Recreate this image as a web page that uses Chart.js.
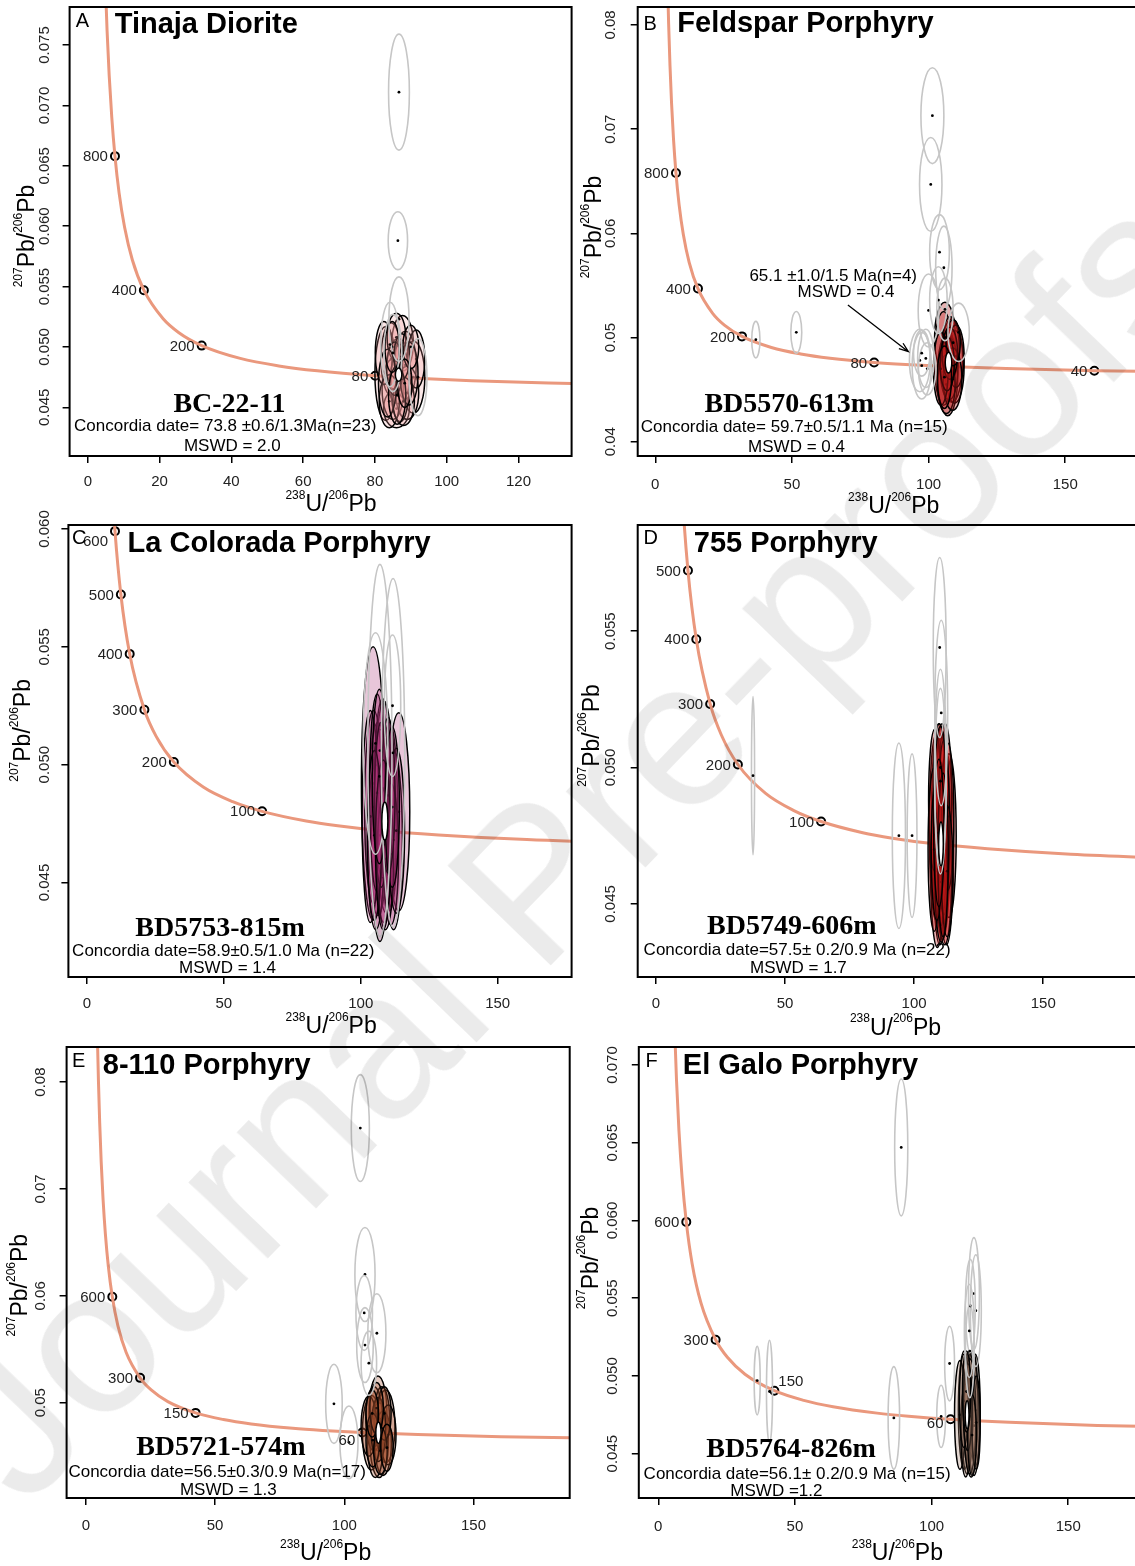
<!DOCTYPE html>
<html>
<head>
<meta charset="utf-8">
<title>U-Pb concordia diagrams</title>
<script src="https://cdn.jsdelivr.net/npm/chart.js"></script>
<style>
  html, body { margin: 0; padding: 0; background: #fff; overflow: hidden; }
  #page { position: relative; width: 1135px; height: 1566px; overflow: hidden; background: #fff; }
  canvas.panel { position: absolute; }
  #wm {
    position: absolute; left: 25px; top: 1510px; white-space: nowrap;
    font: 208px/1 "Liberation Sans", Arial, sans-serif; color: #ebebeb;
    transform-origin: 0 0; transform: rotate(-46deg) translateY(-0.8465em);
    mix-blend-mode: multiply; pointer-events: none;
  }
</style>
</head>
<body>
<div id="page">
  <canvas id="cA" class="panel"></canvas>
  <canvas id="cB" class="panel"></canvas>
  <canvas id="cC" class="panel"></canvas>
  <canvas id="cD" class="panel"></canvas>
  <canvas id="cE" class="panel"></canvas>
  <canvas id="cF" class="panel"></canvas>
  <div id="wm">Journal Pre-proofs</div>
</div>
<script>
// concordia curve (age in Ma, 238U/206Pb, 207Pb/206Pb)
const concAges = [1400, 1300, 1200, 1100, 1000, 900, 800, 700, 600, 500, 400, 300, 250, 200, 150, 120, 100, 80, 70, 60, 50, 40, 30];
const concX = [4.123, 4.476, 4.888, 5.374, 5.959, 6.674, 7.568, 8.718, 10.252, 12.399, 15.620, 20.991, 25.290, 31.735, 42.477, 53.223, 63.967, 80.083, 91.592, 106.94, 128.43, 160.66, 214.38];
const concY = [0.08881, 0.08432, 0.08013, 0.07618, 0.07249, 0.06904, 0.06580, 0.06276, 0.05991, 0.05722, 0.05470, 0.05233, 0.05120, 0.05011, 0.04905, 0.04843, 0.04802, 0.04761, 0.04741, 0.04721, 0.04702, 0.04682, 0.04662];

// ages marked on each curve
const agesA = [800, 400, 200, 80];
const agesB = [800, 400, 200, 80, 40];
const agesC = [600, 500, 400, 300, 200, 100];
const agesD = [500, 400, 300, 200, 100];
const agesE = [600, 300, 150, 60];
const agesF = [600, 300, 150, 60];

// ticks
const xTicksA = [0, 20, 40, 60, 80, 100, 120];
const xTicks50 = [0, 50, 100, 150];
const yTicksA = [0.045, 0.050, 0.055, 0.060, 0.065, 0.070, 0.075];
const yLabelsA = ['0.045', '0.050', '0.055', '0.060', '0.065', '0.070', '0.075'];
const yTicksB = [0.04, 0.05, 0.06, 0.07, 0.08];
const yLabelsB = ['0.04', '0.05', '0.06', '0.07', '0.08'];
const yTicksC = [0.045, 0.050, 0.055, 0.060];
const yLabelsC = ['0.045', '0.050', '0.055', '0.060'];
const yTicksD = [0.045, 0.050, 0.055];
const yLabelsD = ['0.045', '0.050', '0.055'];
const yTicksE = [0.05, 0.06, 0.07, 0.08];
const yLabelsE = ['0.05', '0.06', '0.07', '0.08'];
const yTicksF = [0.045, 0.050, 0.055, 0.060, 0.065, 0.070];
const yLabelsF = ['0.045', '0.050', '0.055', '0.060', '0.065', '0.070'];

// analyses: [238U/206Pb, 207Pb/206Pb, half-width x, half-width y]
const accA = [[83.0,0.0478,3.0,0.0039],[87.7,0.0503,3.0,0.0023],[90.7,0.0475,3.2,0.0030],[86.0,0.0449,3.6,0.0016],
  [86.5,0.0480,3.4,0.0027],[84.5,0.0490,2.8,0.0030],[88.5,0.0485,3.0,0.0028],[85.0,0.0465,3.0,0.0025],
  [89.0,0.0462,3.2,0.0022],[87.0,0.0470,2.6,0.0032],[82.5,0.0495,2.4,0.0026],[91.5,0.0490,2.4,0.0024],
  [86.0,0.0508,2.6,0.0020],[84.0,0.0455,2.8,0.0022],[88.0,0.0455,3.0,0.0020],[85.5,0.0482,2.2,0.0022],
  [89.5,0.0478,2.5,0.0026],[83.5,0.0470,2.5,0.0028],[87.5,0.0492,2.2,0.0019],[86.2,0.0460,2.4,0.0024],
  [90.0,0.0500,2.2,0.0018],[84.8,0.0500,2.0,0.0021],[88.3,0.0470,2.0,0.0020]];
const rejA = [[86.7,0.0711,2.9,0.0048],[86.4,0.0588,2.7,0.0024],[86.7,0.0523,2.8,0.0035],[84.2,0.0502,2.6,0.0035],
  [85.0,0.0495,2.5,0.0032],[92.0,0.0475,2.5,0.0032]];
const concA = [86.6, 0.0477, 0.9, 0.00055];

const accB = [[106.0,0.0500,3.8,0.0034],[108.5,0.0478,4.0,0.0040],[107.0,0.0465,3.7,0.0040],[109.5,0.0472,3.5,0.0035],
  [105.5,0.0480,3.4,0.0045],[108.0,0.0490,3.2,0.0030],[107.5,0.0470,3.2,0.0030],[110.0,0.0482,3.0,0.0030],
  [106.5,0.0455,3.2,0.0028],[108.8,0.0460,3.4,0.0030],[104.5,0.0470,2.7,0.0035],[107.8,0.0485,2.8,0.0025],
  [106.8,0.0475,2.6,0.0026],[109.0,0.0495,2.6,0.0022],[105.8,0.0462,2.6,0.0030]];
const rejB = [[101.4,0.0713,4.2,0.0046],[100.8,0.0647,4.1,0.0045],[104.0,0.0582,3.6,0.0036],[105.6,0.0567,3.0,0.0040],
  [100.0,0.0526,3.8,0.0035],[103.6,0.0536,3.2,0.0032],[106.0,0.0527,3.0,0.0030],[111.0,0.0505,3.9,0.0028],
  [96.8,0.0478,3.8,0.0030],[97.5,0.0473,3.5,0.0032],[99.0,0.0480,3.0,0.0028],[99.5,0.0470,3.2,0.0025],
  [97.5,0.0485,3.0,0.0022],[36.8,0.0498,1.5,0.00175],[51.6,0.0505,2.0,0.0020]];
const concB = [107.3, 0.0476, 1.2, 0.0010];

const accC = [[104.5,0.0492,4.25,0.0058],[113.9,0.0480,4.0,0.0042],[108.5,0.0480,3.5,0.0047],[109.4,0.0473,3.6,0.0036],
  [106.3,0.0477,3.6,0.0041],[104.7,0.0482,3.3,0.0041],[107.0,0.0470,3.2,0.0045],[110.5,0.0478,3.0,0.0040],
  [105.5,0.0465,3.0,0.0035],[112.0,0.0468,3.2,0.0038],[103.5,0.0478,3.0,0.0045],[108.0,0.0490,3.0,0.0038],
  [111.0,0.0462,2.8,0.0030],[106.0,0.0488,2.8,0.0042],[109.0,0.0460,3.0,0.0030],[107.5,0.0483,2.5,0.0035],
  [113.0,0.0472,3.0,0.0035],[105.0,0.0470,2.6,0.0036],[110.0,0.0487,2.5,0.0033],[108.2,0.0466,2.8,0.0036],
  [106.8,0.0495,2.6,0.0037],[111.5,0.0482,2.6,0.0034]];
const rejC = [[107.0,0.0506,4.4,0.0079],[111.8,0.0505,4.25,0.0074],[105.4,0.0509,4.5,0.0047],[111.6,0.0525,3.0,0.0030]];
const concC = [108.8, 0.0476, 1.1, 0.0008];

const accD = [[109.5,0.0480,2.8,0.0036],[111.0,0.0475,3.0,0.0038],[112.5,0.0470,2.8,0.0035],[110.0,0.0468,2.7,0.0033],
  [108.5,0.0478,2.6,0.0034],[113.5,0.0475,2.8,0.0030],[110.8,0.0485,2.6,0.0031],[109.0,0.0462,2.6,0.0028],
  [111.8,0.0460,2.7,0.0025],[108.0,0.0488,2.4,0.0026],[112.0,0.0490,2.5,0.0026],[110.3,0.0472,2.2,0.0030],
  [109.8,0.0492,2.4,0.0024],[113.0,0.0482,2.4,0.0027],[107.8,0.0470,2.4,0.0030],[111.5,0.0478,2.2,0.0032],
  [110.5,0.0458,2.4,0.0022],[112.8,0.0462,2.2,0.0024],[108.8,0.0470,2.2,0.0026],[110.2,0.0495,2.2,0.0020],
  [111.2,0.0468,2.0,0.0030],[109.6,0.0476,2.0,0.0027]];
const rejD = [[109.9,0.0544,2.5,0.0033],[110.5,0.0520,2.5,0.0034],[110.2,0.0500,2.3,0.0036],[110.2,0.0495,2.2,0.0034],
  [94.1,0.0475,2.55,0.0034],[99.2,0.0475,1.9,0.0030],[37.6,0.0497,0.6,0.0029]];
const concD = [110.4, 0.0472, 0.9, 0.0008];

const accE = [[113.0,0.0490,3.5,0.0035],[110.5,0.0472,3.5,0.0035],[116.0,0.0478,3.6,0.0034],[113.5,0.0465,3.6,0.0035],
  [111.5,0.0485,3.2,0.0030],[115.0,0.0462,3.2,0.0030],[112.0,0.0460,3.0,0.0030],[114.5,0.0485,3.0,0.0030],
  [109.5,0.0478,3.0,0.0028],[117.0,0.0470,3.0,0.0028],[113.2,0.0475,2.8,0.0030],[111.0,0.0465,2.6,0.0025],
  [115.5,0.0490,2.6,0.0025],[112.5,0.0495,2.6,0.0024],[114.0,0.0455,2.6,0.0022],[110.8,0.0490,2.4,0.0022],
  [116.5,0.0458,2.4,0.0022]];
const rejE = [[106.2,0.0757,3.5,0.0050],[108.0,0.0620,3.9,0.0044],[107.7,0.0584,3.2,0.0035],[112.6,0.0565,3.5,0.0037],
  [108.0,0.0554,3.2,0.0035],[109.5,0.0537,3.0,0.0030],[96.0,0.0499,3.2,0.0037],[101.8,0.0463,3.5,0.0034]];
const concE = [113.2, 0.0472, 1.0, 0.0010];

const accF = [[112.0,0.0478,2.2,0.0038],[114.5,0.0475,2.4,0.0040],[116.0,0.0478,1.8,0.0036],[113.0,0.0470,2.0,0.0033],
  [110.4,0.0475,2.0,0.0035],[115.0,0.0482,2.0,0.0034],[113.8,0.0486,1.8,0.0030],[112.5,0.0465,1.8,0.0030],
  [115.5,0.0468,2.0,0.0032],[114.0,0.0474,2.2,0.0037],[111.8,0.0484,1.6,0.0030],[116.3,0.0470,1.5,0.0030],
  [113.2,0.0480,1.6,0.0028],[114.8,0.0462,1.6,0.0026],[112.8,0.0490,1.5,0.0026]];
const rejF = [[88.9,0.0647,2.4,0.0044],[86.2,0.0473,2.1,0.0033],[106.6,0.0508,1.8,0.0024],[103.5,0.0474,1.6,0.0020],
  [115.5,0.0553,2.0,0.0036],[116.2,0.0542,2.0,0.0036],[114.2,0.0545,1.8,0.0030],[113.8,0.0529,1.8,0.0030],
  [114.0,0.0516,1.6,0.0030],[36.2,0.0497,1.1,0.0022],[40.7,0.0490,1.1,0.0033]];
const concF = [113.0, 0.0475, 0.7, 0.0009];

const SANS = '"Liberation Sans", Arial, sans-serif';
const SERIF = '"Liberation Serif", "Times New Roman", serif';
const CURVE = '#ea987d';
const GREY = '#c6c6c6';

const panels = [
  { canvas: 'cA', frame: [0, 0, 580, 520], box: [69.6, 7, 571.6, 456], x: [-5.07, 134.8], y: [0.04097, 0.07815],
    xTicks: xTicksA, yTicks: yTicksA, yLabels: yLabelsA, ages: agesA, acc: accA, rej: rejA, conc: concA,
    fill: 'rgba(235,150,150,0.22)',
    letter: 'A', title: 'Tinaja Diorite', sample: 'BC-22-11', date: 'Concordia date= 73.8 ±0.6/1.3Ma(n=23)', mswd: 'MSWD = 2.0',
    pos: { letter: [75.8, 26.7], title: [114.7, 32.7], sample: [229.4, 411.7], date: [74, 431], mswd: [232.3, 450.7],
      xTickY: 481.7, xTitle: [331, 505], yTickX: 44.4, yTitle: [27.7, 236] }, ageOff: {} },
  { canvas: 'cB', frame: [575, 0, 570, 520], box: [637.7, 7, 1140, 456], x: [-6.43, 177.0], y: [0.03863, 0.08173],
    xTicks: xTicks50, yTicks: yTicksB, yLabels: yLabelsB, ages: agesB, acc: accB, rej: rejB, conc: concB,
    fill: 'rgba(185,25,25,0.34)',
    letter: 'B', title: 'Feldspar Porphyry', sample: 'BD5570-613m', date: 'Concordia date= 59.7±0.5/1.1 Ma (n=15)', mswd: 'MSWD = 0.4',
    pos: { letter: [643.6, 30], title: [677.3, 31.7], sample: [789.2, 411.7], date: [640.7, 431.7], mswd: [796.5, 451.7],
      xTickY: 485, xTitle: [893.7, 506.7], yTickX: 611.3, yTitle: [594.8, 227] }, ageOff: {},
    note: { lines: ['65.1 ±1.0/1.5 Ma(n=4)', 'MSWD = 0.4'], at: [[833.2, 276.7], [846, 292.7]], arrow: [847.9, 305, 908.4, 351.7] } },
  { canvas: 'cC', frame: [0, 500, 580, 540], box: [68.4, 525, 571.6, 977], x: [-6.76, 177.0], y: [0.04099, 0.06017],
    xTicks: xTicks50, yTicks: yTicksC, yLabels: yLabelsC, ages: agesC, acc: accC, rej: rejC, conc: concC,
    fill: 'rgba(170,45,115,0.27)',
    letter: 'C', title: 'La Colorada Porphyry', sample: 'BD5753-815m', date: 'Concordia date=58.9±0.5/1.0 Ma (n=22)', mswd: 'MSWD = 1.4',
    pos: { letter: [72.1, 543.6], title: [127.6, 552], sample: [220.1, 935.7], date: [72.1, 955.9], mswd: [227.5, 973.4],
      xTickY: 1003.7, xTitle: [331.1, 1026.6], yTickX: 44.4, yTitle: [24, 730.4] }, ageOff: { 600: [-7, 11, 'right'] } },
  { canvas: 'cD', frame: [575, 500, 570, 540], box: [637.7, 525, 1140, 977], x: [-7.07, 187.1], y: [0.04232, 0.05889],
    xTicks: xTicks50, yTicks: yTicksD, yLabels: yLabelsD, ages: agesD, acc: accD, rej: rejD, conc: concD,
    fill: 'rgba(205,25,25,0.32)',
    letter: 'D', title: '755 Porphyry', sample: 'BD5749-606m', date: 'Concordia date=57.5± 0.2/0.9 Ma (n=22)', mswd: 'MSWD = 1.7',
    pos: { letter: [643.6, 543.6], title: [693.8, 552], sample: [791.8, 934], date: [643.6, 955.3], mswd: [798.4, 973.4],
      xTickY: 1003.7, xTitle: [895.5, 1028.3], yTickX: 611.3, yTitle: [592.3, 735.5] }, ageOff: {} },
  { canvas: 'cE', frame: [0, 1035, 580, 531], box: [66.6, 1047, 569.7, 1498], x: [-7.43, 187.2], y: [0.04109, 0.08328],
    xTicks: xTicks50, yTicks: yTicksE, yLabels: yLabelsE, ages: agesE, acc: accE, rej: rejE, conc: concE,
    fill: 'rgba(165,80,45,0.30)',
    letter: 'E', title: '8-110 Porphyry', sample: 'BD5721-574m', date: 'Concordia date=56.5±0.3/0.9 Ma(n=17)', mswd: 'MSWD = 1.3',
    pos: { letter: [72.1, 1067.3], title: [102.8, 1074.1], sample: [220.9, 1455.4], date: [68.4, 1477], mswd: [228.3, 1494.5],
      xTickY: 1525.8, xTitle: [325.6, 1554], yTickX: 40.7, yTitle: [21.1, 1285.2] }, ageOff: { 60: [-7, 8, 'right'] } },
  { canvas: 'cF', frame: [575, 1035, 570, 531], box: [638.8, 1047, 1140, 1498], x: [-7.12, 175.9], y: [0.04215, 0.07116],
    xTicks: xTicks50, yTicks: yTicksF, yLabels: yLabelsF, ages: agesF, acc: accF, rej: rejF, conc: concF,
    fill: 'rgba(165,125,105,0.30)',
    letter: 'F', title: 'El Galo Porphyry', sample: 'BD5764-826m', date: 'Concordia date=56.1± 0.2/0.9 Ma (n=15)', mswd: 'MSWD =1.2',
    pos: { letter: [645.4, 1067.3], title: [682.8, 1074], sample: [791, 1457], date: [643.6, 1479], mswd: [776.4, 1496],
      xTickY: 1526.8, xTitle: [897.4, 1554], yTickX: 613.2, yTitle: [591.2, 1258] },
    ageOff: { 150: [4, -9, 'left'], 60: [-7, 5, 'right'] } }
];

// draw an error ellipse from data values
function ellipse(ctx, xs, ys, e, fill, stroke, lw, dot) {
  const cx = xs.getPixelForValue(e[0]), cy = ys.getPixelForValue(e[1]);
  const rx = Math.abs(xs.getPixelForValue(e[0] + e[2]) - cx);
  const ry = Math.abs(ys.getPixelForValue(e[1] + e[3]) - cy);
  ctx.beginPath();
  ctx.ellipse(cx, cy, rx, ry, 0, 0, Math.PI * 2);
  if (fill) { ctx.fillStyle = fill; ctx.fill(); }
  ctx.strokeStyle = stroke; ctx.lineWidth = lw; ctx.stroke();
  if (dot) {
    ctx.beginPath(); ctx.arc(cx, cy, 1.4, 0, Math.PI * 2);
    ctx.fillStyle = '#000'; ctx.fill();
  }
}

// text with superscripts, e.g. 207Pb/206Pb
function rich(ctx, parts, x, y, size, rotate) {
  const big = size + 'px ' + SANS, small = Math.round(size * 0.52) + 'px ' + SANS;
  let w = 0;
  parts.forEach(([t, sup]) => { ctx.font = sup ? small : big; w += ctx.measureText(t).width; });
  ctx.save();
  ctx.translate(x, y);
  if (rotate) ctx.rotate(-Math.PI / 2);
  ctx.textAlign = 'left'; ctx.textBaseline = 'middle'; ctx.fillStyle = '#000';
  let cx = -w / 2;
  parts.forEach(([t, sup]) => {
    ctx.font = sup ? small : big;
    ctx.fillText(t, cx, sup ? -size * 0.4 : 0);
    cx += ctx.measureText(t).width;
  });
  ctx.restore();
}

function text(ctx, s, x, y, font, align, base) {
  ctx.font = font; ctx.textAlign = align || 'left'; ctx.textBaseline = base || 'alphabetic';
  ctx.fillStyle = '#000'; ctx.fillText(s, x, y);
}

function decor(p) {
  const [fl, ft] = p.frame;
  return {
    id: 'decor' + p.letter,
    afterDatasetsDraw(chart) {
      const ctx = chart.ctx, xs = chart.scales.x, ys = chart.scales.y, a = chart.chartArea;
      ctx.save();
      ctx.beginPath(); ctx.rect(a.left, a.top, a.right - a.left, a.bottom - a.top); ctx.clip();
      p.acc.forEach(e => ellipse(ctx, xs, ys, e, p.fill, '#000', 1.5, true));
      p.rej.forEach(e => ellipse(ctx, xs, ys, e, null, GREY, 1.6, true));
      ellipse(ctx, xs, ys, p.conc, '#fff', '#000', 1.5, false);
      ctx.restore();
    },
    afterDraw(chart) {
      const ctx = chart.ctx, xs = chart.scales.x, ys = chart.scales.y, a = chart.chartArea;
      const P = p.pos;
      // plot box
      ctx.save();
      ctx.strokeStyle = '#000'; ctx.lineWidth = 2;
      ctx.strokeRect(a.left, a.top, a.right - a.left, a.bottom - a.top);
      // tick labels
      ctx.fillStyle = '#222';
      ctx.font = '15px ' + SANS; ctx.textAlign = 'center'; ctx.textBaseline = 'middle';
      p.xTicks.forEach(v => ctx.fillText(String(v), xs.getPixelForValue(v), P.xTickY - ft));
      p.yTicks.forEach((v, i) => {
        ctx.save();
        ctx.translate(P.yTickX - fl, ys.getPixelForValue(v));
        ctx.rotate(-Math.PI / 2);
        ctx.fillText(p.yLabels[i], 0, 0);
        ctx.restore();
      });
      // axis titles
      rich(ctx, [['238', true], ['U/', false], ['206', true], ['Pb', false]], P.xTitle[0] - fl, P.xTitle[1] - ft, 23, false);
      rich(ctx, [['207', true], ['Pb/', false], ['206', true], ['Pb', false]], P.yTitle[0] - fl, P.yTitle[1] - ft, 23, true);
      // age labels on the concordia
      ctx.font = '15px ' + SANS; ctx.fillStyle = '#222'; ctx.textBaseline = 'middle';
      p.ages.forEach(age => {
        const i = concAges.indexOf(age);
        const px = xs.getPixelForValue(concX[i]), py = ys.getPixelForValue(concY[i]);
        const off = p.ageOff[age] || [-7, 1, 'right'];
        ctx.textAlign = off[2];
        ctx.fillText(String(age), px + off[0], py + off[1]);
      });
      // panel texts
      text(ctx, p.letter, P.letter[0] - fl, P.letter[1] - ft, '20px ' + SANS);
      text(ctx, p.title, P.title[0] - fl, P.title[1] - ft, 'bold 29px ' + SANS);
      text(ctx, p.sample, P.sample[0] - fl, P.sample[1] - ft, 'bold 28px ' + SERIF, 'center');
      text(ctx, p.date, P.date[0] - fl, P.date[1] - ft, '17px ' + SANS);
      text(ctx, p.mswd, P.mswd[0] - fl, P.mswd[1] - ft, '17px ' + SANS, 'center');
      if (p.note) {
        p.note.lines.forEach((s, i) => text(ctx, s, p.note.at[i][0] - fl, p.note.at[i][1] - ft, '17px ' + SANS, 'center', 'middle'));
        const [x1, y1, x2, y2] = p.note.arrow.map((v, i) => v - (i % 2 ? ft : fl));
        const ang = Math.atan2(y2 - y1, x2 - x1);
        ctx.strokeStyle = '#000'; ctx.lineWidth = 1.3;
        ctx.beginPath(); ctx.moveTo(x1, y1); ctx.lineTo(x2, y2);
        ctx.moveTo(x2 - 10 * Math.cos(ang - 0.35), y2 - 10 * Math.sin(ang - 0.35));
        ctx.lineTo(x2, y2);
        ctx.lineTo(x2 - 10 * Math.cos(ang + 0.35), y2 - 10 * Math.sin(ang + 0.35));
        ctx.stroke();
      }
      ctx.restore();
    }
  };
}

function makePanel(p) {
  const cv = document.getElementById(p.canvas);
  const [fl, ft, fw, fh] = p.frame;
  const [bl, bt, br, bb] = p.box;
  cv.width = fw; cv.height = fh;
  cv.style.left = fl + 'px'; cv.style.top = ft + 'px';
  cv.style.width = fw + 'px'; cv.style.height = fh + 'px';
  const curve = concX.map((x, i) => ({ x: x, y: concY[i] }));
  const marks = p.ages.map(age => { const i = concAges.indexOf(age); return { x: concX[i], y: concY[i] }; });
  const tickGrid = { display: true, drawOnChartArea: false, drawTicks: true, tickLength: 7, color: '#000', lineWidth: 1.5 };
  new Chart(cv, {
    type: 'scatter',
    data: {
      datasets: [
        { data: curve, showLine: true, borderColor: CURVE, borderWidth: 3, pointRadius: 0,
          cubicInterpolationMode: 'monotone', capBezierPoints: false, fill: false },
        { data: marks, showLine: false, pointRadius: 4, pointBorderWidth: 2,
          pointBorderColor: '#000', pointBackgroundColor: '#fff' }
      ]
    },
    options: {
      responsive: false, animation: false, devicePixelRatio: 1,
      events: [],
      layout: { padding: { left: 0, top: bt - ft, right: fl + fw - br, bottom: 0 } },
      plugins: { legend: { display: false }, tooltip: { enabled: false } },
      scales: {
        x: { type: 'linear', min: p.x[0], max: p.x[1],
          afterBuildTicks: s => { s.ticks = p.xTicks.map(v => ({ value: v })); },
          afterFit: s => { s.height = ft + fh - bb; },
          ticks: { display: false }, grid: tickGrid, border: { display: false } },
        y: { type: 'linear', min: p.y[0], max: p.y[1],
          afterBuildTicks: s => { s.ticks = p.yTicks.map(v => ({ value: v })); },
          afterFit: s => { s.width = bl - fl; },
          ticks: { display: false }, grid: tickGrid, border: { display: false } }
      }
    },
    plugins: [decor(p)]
  });
}

panels.forEach(makePanel);
</script>
</body>
</html>
